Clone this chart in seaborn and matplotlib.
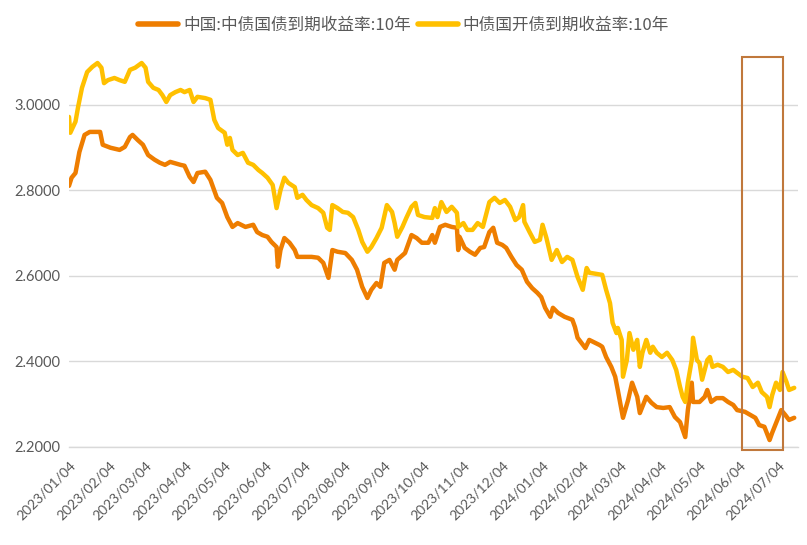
import matplotlib
matplotlib.use("Agg")
import matplotlib.pyplot as plt
import matplotlib.dates as mdates
from matplotlib.patches import Rectangle
from matplotlib.lines import Line2D
import seaborn as sns
import pandas as pd

START = "2023-01-04"

series_names = ["中国:中债国债到期收益率:10年", "中债国开债到期收益率:10年"]
colors = ["#EE7D00", "#FFC000"]

# days after START and yield values (%)
gov_days = [0, 2, 5, 8, 12, 16, 24, 26, 32, 39, 43, 47, 49, 53, 57, 61, 66, 70, 74, 78,
            86, 89, 93, 96, 99, 105, 109, 114, 118, 122, 126, 130, 136, 142, 145, 149, 153, 156, 160, 161,
            163, 166, 170, 174, 176, 187, 192, 196, 200, 203, 207, 213, 218, 222, 226, 230, 233, 237, 240, 243,
            247, 251, 253, 259, 264, 268, 272, 277, 280, 282, 286, 290, 295, 299, 300, 301, 305, 309, 313, 317,
            320, 324, 327, 330, 334, 337, 341, 345, 349, 353, 357, 361, 364, 367, 371, 373, 377, 382, 388, 390,
            392, 398, 401, 409, 411, 414, 418, 421, 423, 427, 431, 434, 438, 440, 445, 449, 453, 458, 463, 467,
            471, 475, 477, 480, 481, 486, 490, 492, 495, 499, 504, 508, 512, 515, 521, 525, 529, 532, 536, 540,
            542, 546, 549, 552, 555, 559]
gov_yield = [2.810, 2.829, 2.840, 2.889, 2.929, 2.936, 2.936, 2.906, 2.899, 2.894, 2.901, 2.924, 2.929, 2.917, 2.906, 2.882, 2.871, 2.864, 2.859, 2.866,
             2.859, 2.857, 2.831, 2.819, 2.840, 2.843, 2.824, 2.782, 2.770, 2.737, 2.714, 2.723, 2.714, 2.719, 2.702, 2.695, 2.691, 2.679, 2.667, 2.621,
             2.660, 2.688, 2.677, 2.660, 2.644, 2.644, 2.642, 2.630, 2.595, 2.660, 2.656, 2.653, 2.637, 2.614, 2.574, 2.548, 2.567, 2.583, 2.574, 2.630,
             2.637, 2.614, 2.637, 2.653, 2.695, 2.688, 2.677, 2.677, 2.695, 2.677, 2.714, 2.719, 2.714, 2.712, 2.660, 2.691, 2.665, 2.656, 2.649, 2.665,
             2.667, 2.702, 2.712, 2.677, 2.672, 2.665, 2.644, 2.625, 2.614, 2.586, 2.571, 2.560, 2.550, 2.525, 2.504, 2.525, 2.513, 2.504, 2.497, 2.480,
             2.455, 2.431, 2.450, 2.438, 2.434, 2.410, 2.387, 2.364, 2.333, 2.268, 2.310, 2.350, 2.317, 2.279, 2.317, 2.303, 2.293, 2.291, 2.293, 2.270,
             2.258, 2.223, 2.286, 2.350, 2.305, 2.305, 2.317, 2.333, 2.305, 2.314, 2.314, 2.305, 2.298, 2.286, 2.282, 2.275, 2.268, 2.251, 2.247, 2.216,
             2.233, 2.263, 2.286, 2.275, 2.263, 2.268]

cdb_days = [0, 1, 5, 7, 10, 14, 18, 22, 25, 27, 30, 35, 39, 43, 47, 51, 56, 59, 61, 65,
            69, 72, 75, 78, 82, 86, 89, 93, 96, 99, 105, 109, 112, 115, 120, 122, 124, 126, 130, 134,
            138, 142, 146, 149, 153, 157, 160, 163, 166, 169, 174, 176, 180, 183, 187, 192, 196, 199, 201, 203,
            207, 211, 215, 219, 223, 226, 230, 233, 237, 241, 245, 249, 251, 253, 257, 260, 264, 267, 269, 274,
            280, 282, 284, 287, 291, 295, 299, 300, 304, 307, 311, 315, 319, 322, 324, 328, 332, 336, 340, 344,
            347, 350, 351, 355, 359, 363, 365, 368, 372, 376, 380, 384, 388, 392, 396, 399, 401, 411, 414, 417,
            419, 422, 423, 426, 427, 430, 432, 435, 438, 440, 442, 445, 448, 450, 453, 457, 461, 465, 468, 471,
            473, 475, 477, 480, 481, 484, 486, 488, 492, 494, 496, 500, 504, 508, 512, 515, 519, 523, 527, 531,
            534, 538, 540, 542, 545, 548, 550, 553, 555, 559]
cdb_yield = [2.971, 2.934, 2.960, 2.994, 3.039, 3.076, 3.088, 3.097, 3.086, 3.050, 3.057, 3.062, 3.057, 3.053, 3.081, 3.086, 3.097, 3.086, 3.053, 3.039,
             3.034, 3.022, 3.006, 3.022, 3.029, 3.034, 3.029, 3.034, 3.006, 3.018, 3.015, 3.011, 2.964, 2.945, 2.934, 2.906, 2.922, 2.894, 2.882, 2.887,
             2.864, 2.859, 2.847, 2.840, 2.829, 2.812, 2.758, 2.800, 2.829, 2.817, 2.807, 2.782, 2.789, 2.777, 2.765, 2.758, 2.747, 2.712, 2.707, 2.765,
             2.758, 2.749, 2.747, 2.737, 2.707, 2.679, 2.656, 2.667, 2.688, 2.712, 2.765, 2.749, 2.723, 2.691, 2.714, 2.735, 2.761, 2.770, 2.742, 2.737,
             2.735, 2.758, 2.737, 2.772, 2.749, 2.761, 2.747, 2.714, 2.723, 2.707, 2.707, 2.723, 2.714, 2.749, 2.772, 2.782, 2.770, 2.777, 2.761, 2.730,
             2.737, 2.765, 2.726, 2.702, 2.679, 2.684, 2.719, 2.688, 2.637, 2.660, 2.632, 2.644, 2.637, 2.597, 2.567, 2.618, 2.607, 2.602, 2.567, 2.536,
             2.490, 2.466, 2.478, 2.450, 2.364, 2.403, 2.466, 2.427, 2.450, 2.387, 2.420, 2.450, 2.420, 2.434, 2.420, 2.410, 2.420, 2.403, 2.380, 2.340,
             2.317, 2.305, 2.350, 2.403, 2.455, 2.403, 2.396, 2.357, 2.403, 2.410, 2.387, 2.392, 2.387, 2.375, 2.380, 2.373, 2.364, 2.361, 2.340, 2.350,
             2.328, 2.317, 2.293, 2.321, 2.350, 2.333, 2.375, 2.352, 2.333, 2.338]

tick_dates = ["2023-01-04", "2023-02-04", "2023-03-04", "2023-04-04", "2023-05-04", "2023-06-04",
              "2023-07-04", "2023-08-04", "2023-09-04", "2023-10-04", "2023-11-04", "2023-12-04",
              "2024-01-04", "2024-02-04", "2024-03-04", "2024-04-04", "2024-05-04", "2024-06-04",
              "2024-07-04"]
y_ticks = [2.2, 2.4, 2.6, 2.8, 3.0]
box_range = ["2024-06-06", "2024-07-07"]
box_y = [2.193, 3.111]

start = pd.Timestamp(START)
df = pd.concat([
    pd.DataFrame({"date": start + pd.to_timedelta(gov_days, unit="D"), "value": gov_yield, "series": series_names[0]}),
    pd.DataFrame({"date": start + pd.to_timedelta(cdb_days, unit="D"), "value": cdb_yield, "series": series_names[1]}),
])

sns.set_theme(style="white")
plt.rcParams["font.family"] = ["Noto Sans CJK SC", "DejaVu Sans"]

fig = plt.figure(figsize=(8.07, 5.45), dpi=100)
ax = fig.add_axes([0.0855, 0.18, 0.9035, 0.746])

sns.lineplot(data=df, x="date", y="value", hue="series", hue_order=series_names,
             palette=colors, linewidth=3.2, ax=ax, legend=False, estimator=None, sort=True)

ax.set_xlim(start, start + pd.Timedelta(days=562))
ax.set_ylim(2.2, 3.15)
ax.set_yticks(y_ticks)
ax.set_yticklabels([f"{v:.4f}" for v in y_ticks], color="#595959", fontsize=10.5,
                   family=["Lato", "DejaVu Sans"])
ax.grid(axis="y", color="#D9D9D9", linewidth=1)
ax.set_axisbelow(True)
tds = pd.to_datetime(tick_dates)
ax.set_xticks(tds)
ax.set_xticklabels([d.strftime("%Y/%m/%d") for d in tds], rotation=45, ha="right",
                   rotation_mode="anchor", color="#595959", fontsize=10,
                   family=["Lato", "DejaVu Sans"])
ax.tick_params(axis="x", which="major", direction="out", length=5, width=1, color="#D9D9D9", pad=4)
ax.tick_params(axis="y", length=0, pad=6)
ax.set_xlabel("")
ax.set_ylabel("")
for s in ["left", "right", "top"]:
    ax.spines[s].set_visible(False)
ax.spines["bottom"].set_color("#D9D9D9")
ax.spines["bottom"].set_linewidth(1)

b0, b1 = pd.to_datetime(box_range)
x0 = mdates.date2num(b0)
x1 = mdates.date2num(b1)
rect = Rectangle((x0, box_y[0]), x1 - x0, box_y[1] - box_y[0], fill=False,
                 edgecolor="#C0783C", linewidth=1.5, clip_on=False, zorder=5)
ax.add_patch(rect)

handles = [Line2D([], [], color=c, linewidth=4) for c in colors]
fig.legend(handles, series_names, loc="center", bbox_to_anchor=(0.5, 0.954), ncol=2,
           frameon=False, fontsize=12, handlelength=2.4, handletextpad=0.3, columnspacing=0.4,
           labelcolor="#595959")

fig.savefig("out.png", dpi=100)
